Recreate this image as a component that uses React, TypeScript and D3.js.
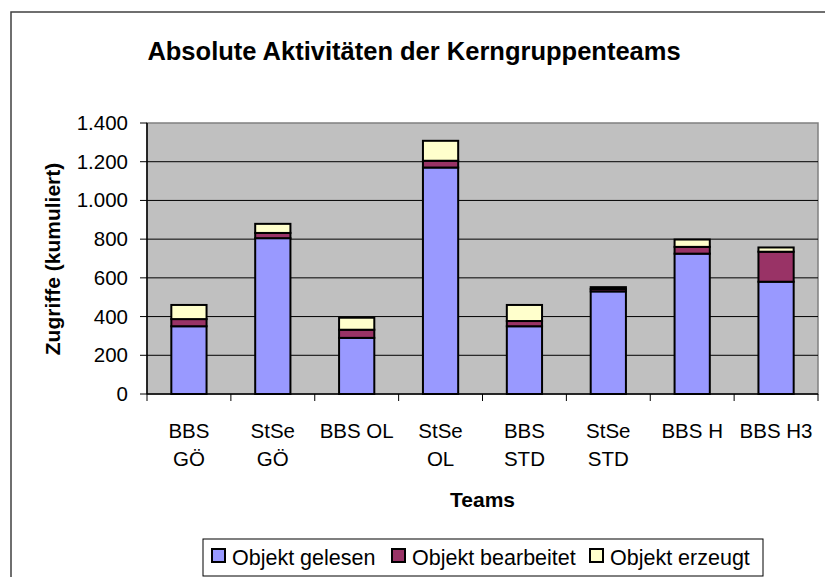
import React from 'react';
import * as d3 from 'd3';

const teams = ['BBS GÖ', 'StSe GÖ', 'BBS OL', 'StSe OL', 'BBS STD', 'StSe STD', 'BBS H', 'BBS H3'];
const teamLabelLines = [['BBS', 'GÖ'], ['StSe', 'GÖ'], ['BBS OL'], ['StSe', 'OL'], ['BBS', 'STD'], ['StSe', 'STD'], ['BBS H'], ['BBS H3']];

const gelesen = [350, 805, 290, 1170, 350, 530, 725, 580];
const bearbeitet = [37, 27, 42, 35, 27, 12, 35, 155];
const erzeugt = [73, 47, 62, 103, 83, 10, 38, 22];

const seriesNames = ['Objekt gelesen', 'Objekt bearbeitet', 'Objekt erzeugt'];
const seriesColors = ['#9999FF', '#993366', '#FFFFCC'];
const yTicks = [0, 200, 400, 600, 800, 1000, 1200, 1400];

const FONT = '"Liberation Sans", Arial, sans-serif';

const App = () => {
  const W = 825, H = 577;
  const plot = { left: 147, right: 818, top: 123, bottom: 394 };

  const x = d3.scaleBand().domain(teams).range([plot.left, plot.right]).padding(0);
  const y = d3.scaleLinear().domain([0, 1400]).range([plot.bottom, plot.top]);
  const barW = x.bandwidth() * 0.42;

  const rows = teams.map((t, i) => ({ team: t, g: gelesen[i], b: bearbeitet[i], e: erzeugt[i] }));
  const stacked = d3.stack<any>().keys(['g', 'b', 'e'])(rows);

  const fmt = (v: number) => d3.format(',')(v).replace(/,/g, '.');

  // legend layout
  const legendX = 203, legendY = 539, legendW = 560, legendH = 37;
  const legendItemX = [211, 391, 589];

  return (
    <svg width={W} height={H} style={{ position: 'absolute', left: 0, top: 0, background: '#fff' }}>
      {/* chart area border, runs off the page */}
      <rect x={11} y={12} width={900} height={700} fill="#fff" stroke="#404040" strokeWidth={1.5} />

      <text x={414} y={60} textAnchor="middle" fontFamily={FONT} fontWeight="bold" fontSize={25.5}>
        Absolute Aktivitäten der Kerngruppenteams
      </text>

      {/* plot area */}
      <rect x={plot.left} y={plot.top} width={plot.right - plot.left} height={plot.bottom - plot.top}
        fill="#C0C0C0" stroke="#808080" strokeWidth={1.5} />

      {yTicks.filter(t => t > 0 && t < 1400).map(t => (
        <line key={t} x1={plot.left} x2={plot.right} y1={y(t)} y2={y(t)} stroke="#000" strokeWidth={1} />
      ))}

      {/* bars */}
      {stacked.map((s, si) => (
        <g key={si}>
          {s.map((d: any, i: number) => (
            <rect key={i}
              x={(x(teams[i]) as number) + (x.bandwidth() - barW) / 2}
              y={y(d[1])}
              width={barW}
              height={y(d[0]) - y(d[1])}
              fill={seriesColors[si]} stroke="#000" strokeWidth={2} />
          ))}
        </g>
      ))}

      {/* y axis */}
      <line x1={plot.left} x2={plot.left} y1={plot.top} y2={plot.bottom} stroke="#000" strokeWidth={1.5} />
      {yTicks.map(t => (
        <g key={t}>
          <line x1={plot.left - 7} x2={plot.left} y1={y(t)} y2={y(t)} stroke="#000" strokeWidth={1} />
          <text x={128} y={y(t) + 7} textAnchor="end" fontFamily={FONT} fontSize={20.5}>{fmt(t)}</text>
        </g>
      ))}

      {/* x axis */}
      <line x1={plot.left} x2={plot.right} y1={plot.bottom} y2={plot.bottom} stroke="#000" strokeWidth={1.5} />
      {teams.concat(['end']).map((t, i) => {
        const xx = plot.left + i * x.bandwidth();
        return <line key={i} x1={xx} x2={xx} y1={plot.bottom} y2={plot.bottom + 7} stroke="#000" strokeWidth={1} />;
      })}
      {teams.map((t, i) => (
        <text key={t} textAnchor="middle" fontFamily={FONT} fontSize={20.5}>
          {teamLabelLines[i].map((ln, li) => (
            <tspan key={li} x={(x(t) as number) + x.bandwidth() / 2} y={438 + li * 28}>{ln}</tspan>
          ))}
        </text>
      ))}

      <text x={(plot.left + plot.right) / 2} y={507} textAnchor="middle" fontFamily={FONT} fontWeight="bold" fontSize={21}>
        Teams
      </text>
      <text transform={`translate(60,259) rotate(-90)`} textAnchor="middle" fontFamily={FONT} fontWeight="bold" fontSize={21}>
        Zugriffe (kumuliert)
      </text>

      {/* legend */}
      <rect x={legendX} y={legendY} width={legendW} height={legendH} fill="#fff" stroke="#000" strokeWidth={1} />
      {seriesNames.map((n, i) => (
        <g key={n}>
          <rect x={legendItemX[i] + 1} y={549} width={13} height={13} fill={seriesColors[i]} stroke="#000" strokeWidth={2} />
          <text x={legendItemX[i] + 21} y={565} fontFamily={FONT} fontSize={21.5}>{n}</text>
        </g>
      ))}
    </svg>
  );
};

export default App;
